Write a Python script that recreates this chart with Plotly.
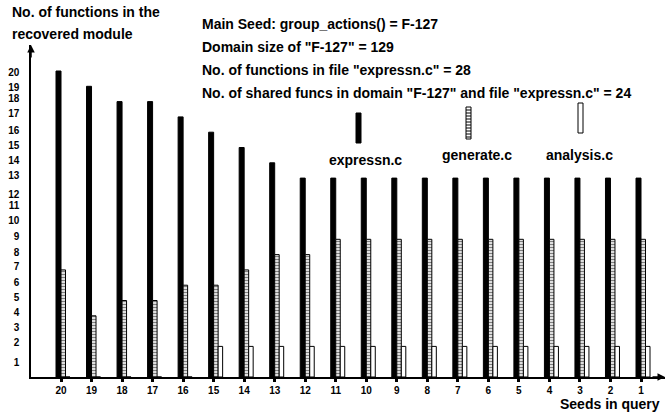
import plotly.graph_objects as go

# ---------------- data ----------------
seeds = ["20", "19", "18", "17", "16", "15", "14", "13", "12", "11",
         "10", "9", "8", "7", "6", "5", "4", "3", "2", "1"]
expressn_c = [20, 19, 18, 18, 17, 16, 15, 14, 13, 13,
              13, 13, 13, 13, 13, 13, 13, 13, 13, 13]
generate_c = [7, 4, 5, 5, 6, 6, 7, 8, 8, 9,
              9, 9, 9, 9, 9, 9, 9, 9, 9, 9]
analysis_c = [0, 0, 0, 0, 0, 2, 2, 2, 2, 2,
              2, 2, 2, 2, 2, 2, 2, 2, 2, 2]
y_tick_labels = ["1", "2", "3", "4", "5", "6", "7", "8", "9", "10",
                 "11", "12", "13", "14", "15", "16", "17", "18", "19", "20"]
# positions of the (hand placed) y labels
y_tick_pos = [0.94, 2.25, 3.23, 4.21, 5.2, 6.2, 7.25, 8.17, 9.18, 10.2,
              11.2, 11.94, 13.2, 14.18, 15.16, 16.14, 17.22, 18.22, 18.92, 19.93]
info_lines = [
    'Main Seed: group_actions() = F-127',
    'Domain size of "F-127" = 129',
    'No. of functions in file "expressn.c" = 28',
    'No. of shared funcs in domain "F-127" and file "expressn.c" = 24',
]

# ---------------- layout geometry ----------------
W, H = 671, 412
ML, MR, MT, MB = 31, 6, 45, 35
PW, PH = W - ML - MR, H - MT - MB
x_lo, x_hi = -0.983, 19.786
y_lo, y_hi = 0, (H - MB - MT) / 15.3
ppu = PW / (x_hi - x_lo)


def px(x):
    return (x - ML) / PW


def py(y):
    return (H - MB - y) / PH


xs = list(range(len(seeds)))
w_black = 5 / ppu
w_hat = 4.5 / ppu

FONT = "Liberation Sans, Arial, Helvetica, sans-serif"

fig = go.Figure()
fig.add_trace(go.Bar(
    x=xs, y=expressn_c, name="expressn.c", width=w_black, offset=-w_black,
    marker=dict(color="black", line=dict(color="black", width=1)),
))
fig.add_trace(go.Bar(
    x=xs, y=generate_c, name="generate.c", width=w_hat, offset=0,
    marker=dict(color="white", line=dict(color="black", width=1),
                pattern=dict(shape="-", fgcolor="black", bgcolor="white",
                             size=3, solidity=0.5)),
))
fig.add_trace(go.Bar(
    x=xs, y=analysis_c, name="analysis.c", width=w_hat, offset=w_hat,
    marker=dict(color="white", line=dict(color="black", width=1)),
))

annotations = []
shapes = []

# axis titles
annotations.append(dict(text="No. of functions in the", xref="paper", yref="paper",
                        x=px(10), y=py(12), xanchor="left", yanchor="middle",
                        showarrow=False, font=dict(size=14)))
annotations.append(dict(text="recovered module", xref="paper", yref="paper",
                        x=px(10), y=py(34), xanchor="left", yanchor="middle",
                        showarrow=False, font=dict(size=14)))
annotations.append(dict(text="Seeds in query", xref="paper", yref="paper",
                        x=px(662), y=py(404), xanchor="right", yanchor="middle",
                        showarrow=False, font=dict(size=14)))

# info block
for i, line in enumerate(info_lines):
    annotations.append(dict(text=line, xref="paper", yref="paper",
                            x=px(200), y=py(24 + 23 * i), xanchor="left",
                            yanchor="middle", showarrow=False, font=dict(size=14)))

# axis arrows
annotations.append(dict(text="", xref="paper", yref="paper", x=1, y=0,
                        ax=-14, ay=0, showarrow=True, arrowhead=2, arrowsize=1,
                        arrowwidth=1.5, arrowcolor="black", standoff=0))
annotations.append(dict(text="", xref="paper", yref="paper", x=0, y=1,
                        ax=0, ay=14, showarrow=True, arrowhead=2, arrowsize=1,
                        arrowwidth=1.5, arrowcolor="black", standoff=0))

# legend (hand-drawn style)
leg = [
    ("expressn.c", 356, 361, 113, 143, "black", 365, 160),
    ("generate.c", 466, 471, 107, 139, "hatch", 477, 155),
    ("analysis.c", 578, 583, 103, 133, "white", 579, 155),
]
for name, x0, x1, y0, y1, kind, tx, ty in leg:
    fill = "black" if kind == "black" else "white"
    shapes.append(dict(type="rect", xref="paper", yref="paper",
                       x0=px(x0), x1=px(x1), y0=py(y1), y1=py(y0),
                       fillcolor=fill, line=dict(color="black", width=1)))
    if kind == "hatch":
        yy = y0 + 3
        while yy < y1:
            shapes.append(dict(type="line", xref="paper", yref="paper",
                               x0=px(x0), x1=px(x1), y0=py(yy), y1=py(yy),
                               line=dict(color="black", width=1)))
            yy += 3
    annotations.append(dict(text=name, xref="paper", yref="paper",
                            x=px(tx), y=py(ty), xanchor="center", yanchor="middle",
                            showarrow=False, font=dict(size=14)))

fig.update_layout(
    width=W, height=H,
    margin=dict(l=ML, r=MR, t=MT, b=MB, pad=0, autoexpand=False),
    paper_bgcolor="white", plot_bgcolor="white",
    font=dict(family=FONT, color="black", weight="bold"),
    showlegend=False,
    barmode="overlay",
    xaxis=dict(range=[x_lo, x_hi], tickmode="array", tickvals=xs, ticktext=seeds,
               automargin=False,
               showgrid=False, zeroline=False, showline=True, linecolor="black",
               linewidth=1.5, ticks="outside", ticklen=3, tickwidth=3,
               tickcolor="black", tickfont=dict(size=10, family=FONT, weight="bold")),
    yaxis=dict(range=[y_lo, y_hi], tickmode="array", tickvals=y_tick_pos,
               ticktext=y_tick_labels, showgrid=False, zeroline=False,
               automargin=False,
               showline=True, linecolor="black", linewidth=1.5, ticks="",
               ticklabelstandoff=8,
               tickfont=dict(size=10, family=FONT, weight="bold")),
    annotations=annotations,
    shapes=shapes,
)

fig.write_html("out.html", config={"displayModeBar": False},
               post_script="document.body.style.margin='0';document.body.style.overflow='hidden';")
